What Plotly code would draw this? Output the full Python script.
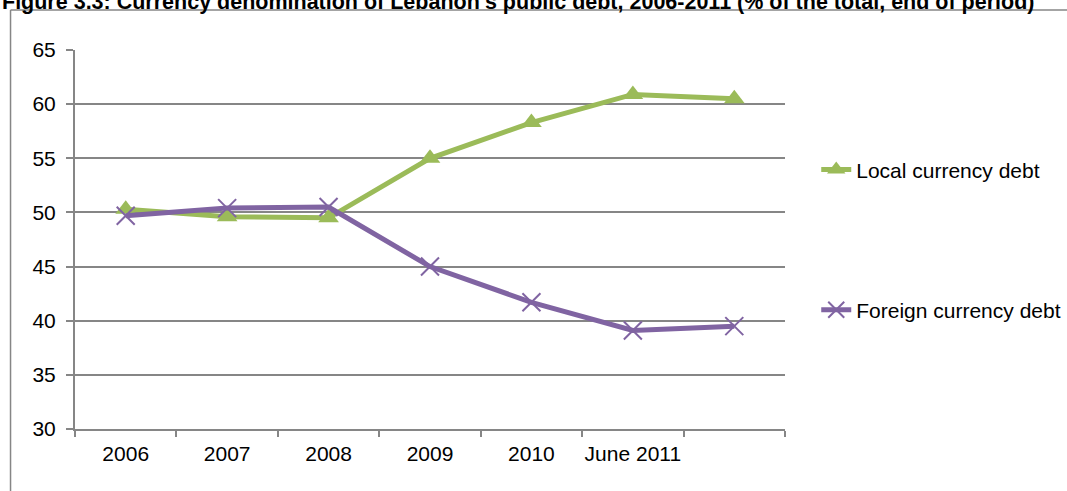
import plotly.graph_objects as go

# Categories along the x-axis (the final period carries no label)
periods = ["2006", "2007", "2008", "2009", "2010", "June 2011", " "]

# Share of total public debt, % (end of period)
local_debt = [50.3, 49.6, 49.5, 55.0, 58.3, 60.9, 60.5]
foreign_debt = [49.7, 50.4, 50.5, 45.0, 41.7, 39.1, 39.5]

y_ticks = [30, 35, 40, 45, 50, 55, 60, 65]

GREEN = "#9BBB59"
PURPLE = "#8064A2"
GRID = "#868686"
FONT = "Liberation Sans, Arial, sans-serif"

fig = go.Figure()
fig.add_trace(go.Scatter(
    x=periods, y=local_debt, name="Local currency debt", legendgroup="local",
    mode="lines+markers",
    line=dict(color=GREEN, width=5),
    marker=dict(symbol="triangle-up", size=18, color=GREEN),
))
fig.add_trace(go.Scatter(
    x=periods, y=foreign_debt, name="Foreign currency debt", legendgroup="foreign",
    mode="lines+markers",
    line=dict(color=PURPLE, width=5),
    marker=dict(symbol="x-thin", size=18, color=PURPLE,
                line=dict(color=PURPLE, width=2)),
))

# Outer frame around the figure
fig.add_shape(type="line", xref="paper", yref="paper",
              x0=-0.0908, x1=1.45, y0=1.1055, y1=1.1055,
              line=dict(color=GRID, width=1.5))
fig.add_shape(type="line", xref="paper", yref="paper",
              x0=-0.0908, x1=-0.0908, y0=1.1055, y1=-0.2,
              line=dict(color=GRID, width=1.5))

fig.add_annotation(
    text="<b>Figure 3.3: Currency denomination of Lebanon's public debt, 2006-2011 (% of the total, end of period)</b>",
    xref="paper", yref="paper", x=-0.105, y=1.126, xanchor="left", yanchor="middle",
    showarrow=False, font=dict(family=FONT, size=21.5, color="#000000"),
)

fig.update_layout(
    width=1067, height=491,
    margin=dict(l=75, r=282, t=50, b=62, autoexpand=False),
    paper_bgcolor="white", plot_bgcolor="white",
    font=dict(family=FONT, size=21, color="#000000"),
    showlegend=True,
    legend=dict(
        x=1.044, y=0.738, xanchor="left", yanchor="top",
        traceorder="grouped", tracegroupgap=110,
        font=dict(family=FONT, size=21, color="#000000"),
        bgcolor="rgba(0,0,0,0)",
    ),
    xaxis=dict(
        type="category", categoryorder="array", categoryarray=periods,
        range=[-0.5, 6.5], tickangle=0, automargin=False,
        showline=True, linecolor=GRID, linewidth=2,
        ticks="outside", tickson="boundaries", ticklen=6, tickcolor=GRID, tickwidth=2,
        ticklabelstandoff=5,
        showgrid=False, zeroline=False,
        tickfont=dict(family=FONT, size=21),
    ),
    yaxis=dict(
        range=[30, 65], tickvals=y_ticks, automargin=False,
        showline=True, linecolor=GRID, linewidth=2,
        ticks="outside", ticklen=7, tickcolor=GRID, tickwidth=2,
        ticklabelstandoff=6,
        showgrid=True, gridcolor=GRID, gridwidth=1.5,
        zeroline=False,
        tickfont=dict(family=FONT, size=21),
    ),
)

fig.write_html("out.html")
